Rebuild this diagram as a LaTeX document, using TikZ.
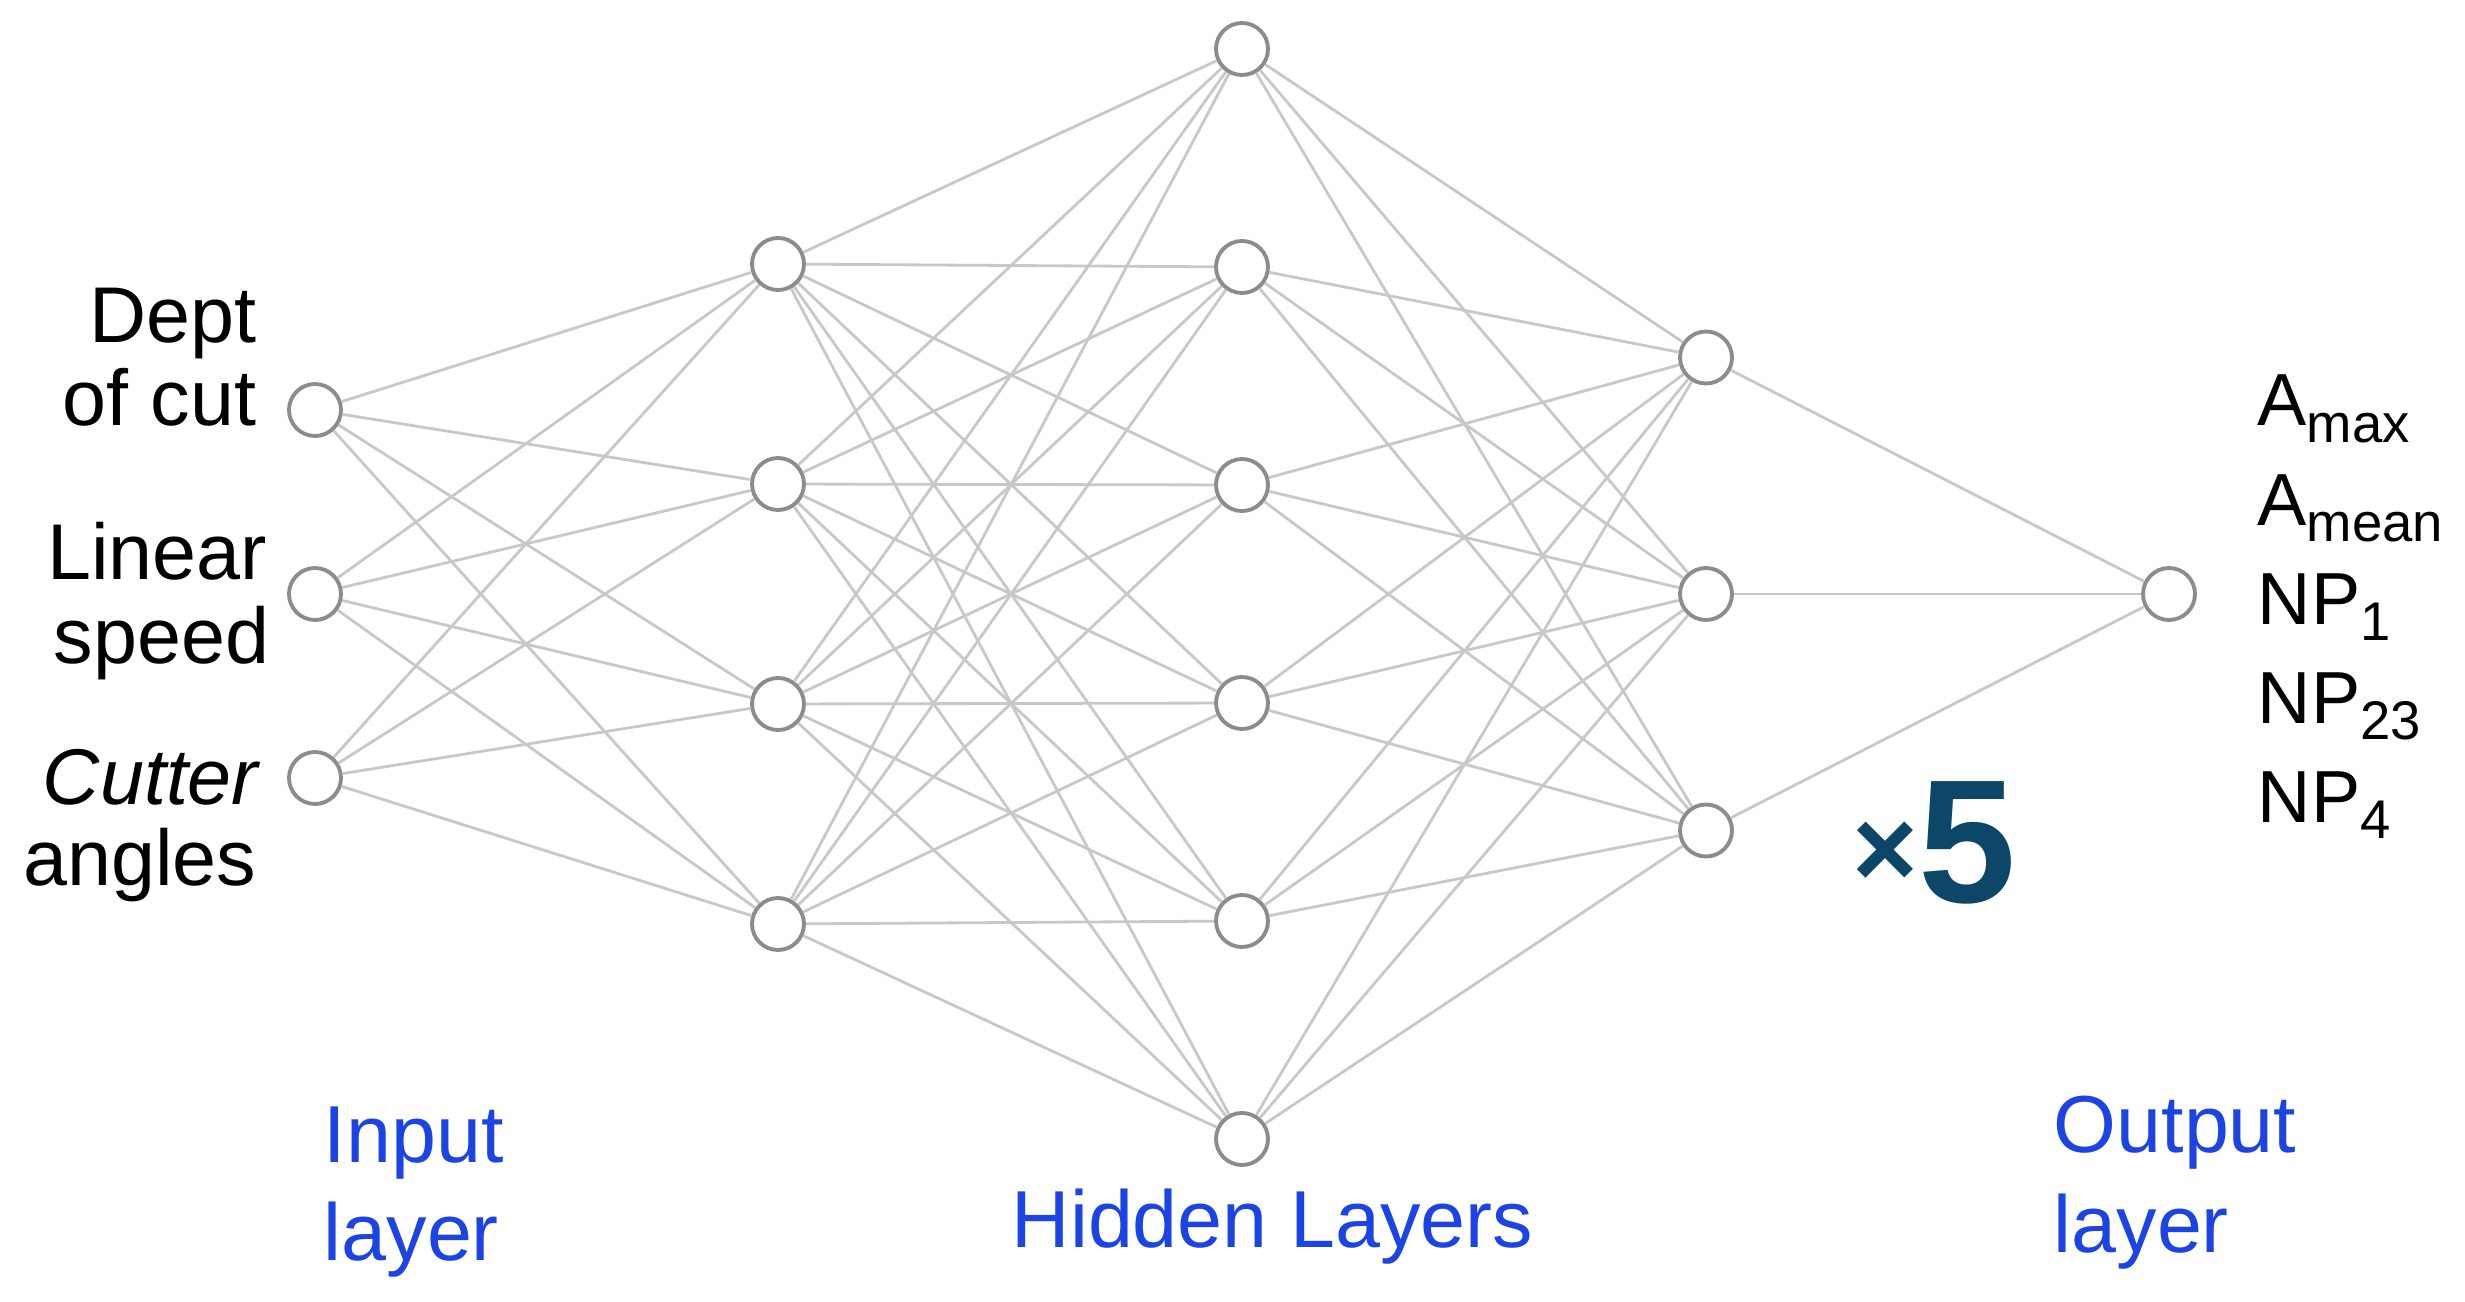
\documentclass[tikz,border=0pt]{standalone}
\usepackage{fontspec}
\setmainfont{Liberation Sans}
\definecolor{wiregray}{RGB}{200,200,200}
\definecolor{unitgray}{RGB}{140,140,140}
\definecolor{layerblue}{RGB}{28,68,228}
\definecolor{repnavy}{RGB}{12,70,104}
\newcommand{\lowsub}[1]{\raisebox{-4.8pt}{\fontsize{15.5}{16}\selectfont #1}}

\begin{document}
\begin{tikzpicture}[
  unit/.style={circle, draw=unitgray, line width=1.1pt, fill=white, minimum size=0.52cm, inner sep=0pt},
  wire/.style={draw=wiregray, line width=0.8pt},
  inname/.style={font=\fontsize{22.5}{25}\selectfont, anchor=base east, inner sep=0pt},
  outname/.style={font=\fontsize{21}{24}\selectfont, anchor=base west, inner sep=0pt},
  layername/.style={font=\fontsize{23}{26}\selectfont, text=layerblue, anchor=base west, inner sep=0pt}]
  \useasboundingbox (0,0) rectangle (24.65,13.01);
  % units of the five layers
  \foreach \i in {1,2,3} \node[unit] (in-\i) at (3.15,{7.07+(2-\i)*1.84}) {};
  \foreach \i in {1,...,4} \node[unit] (ha-\i) at (7.78,{7.07+(2.5-\i)*2.2}) {};
  \foreach \i in {1,...,6} \node[unit] (hb-\i) at (12.42,{7.07+(3.5-\i)*2.18}) {};
  \foreach \i in {1,2,3} \node[unit] (hc-\i) at (17.06,{7.07+(2-\i)*2.365}) {};
  \node[unit] (out) at (21.69,7.07) {};
  % full connections
  \foreach \i in {1,2,3} \foreach \j in {1,...,4} \path[wire] (in-\i) -- (ha-\j);
  \foreach \i in {1,...,4} \foreach \j in {1,...,6} \path[wire] (ha-\i) -- (hb-\j);
  \foreach \i in {1,...,6} \foreach \j in {1,2,3} \path[wire] (hb-\i) -- (hc-\j);
  \foreach \i in {1,2,3} \path[wire] (hc-\i) -- (out);
  % inputs
  \node[inname] (dept) at (2.57,9.58) {Dept};
  \node[inname] (ofcut) at (2.57,8.75) {of cut};
  \node[inname] (linear) at (2.68,7.21) {Linear};
  \node[inname] (speed) at (2.70,6.38) {speed};
  \node[inname] (cutter) at (2.59,4.97) {\itshape Cutter};
  \node[inname] (angles) at (2.57,4.16) {angles};
  % outputs
  \node[outname] (amax) at (22.57,8.75) {A\lowsub{max}};
  \node[outname] (amean) at (22.57,7.76) {A\lowsub{mean}};
  \node[outname] (np1) at (22.57,6.77) {NP\lowsub{1}};
  \node[outname] (np23) at (22.57,5.78) {NP\lowsub{23}};
  \node[outname] (np4) at (22.57,4.79) {NP\lowsub{4}};
  % repeat count
  \node[anchor=base west, inner sep=0pt, text=repnavy, font=\bfseries] (times) at (18.52,3.99)
    {{\fontsize{32}{32}\selectfont\raisebox{4pt}{×}}{\fontsize{50}{50}\selectfont 5}};
  % layer names
  \node[layername] (inputa) at (3.23,1.39) {Input};
  \node[layername] (inputb) at (3.23,0.41) {layer};
  \node[layername] (hidden) at (10.11,0.54) {Hidden Layers};
  \node[layername] (outputa) at (20.53,1.49) {Output};
  \node[layername] (outputb) at (20.53,0.49) {layer};
\end{tikzpicture}
\end{document}
